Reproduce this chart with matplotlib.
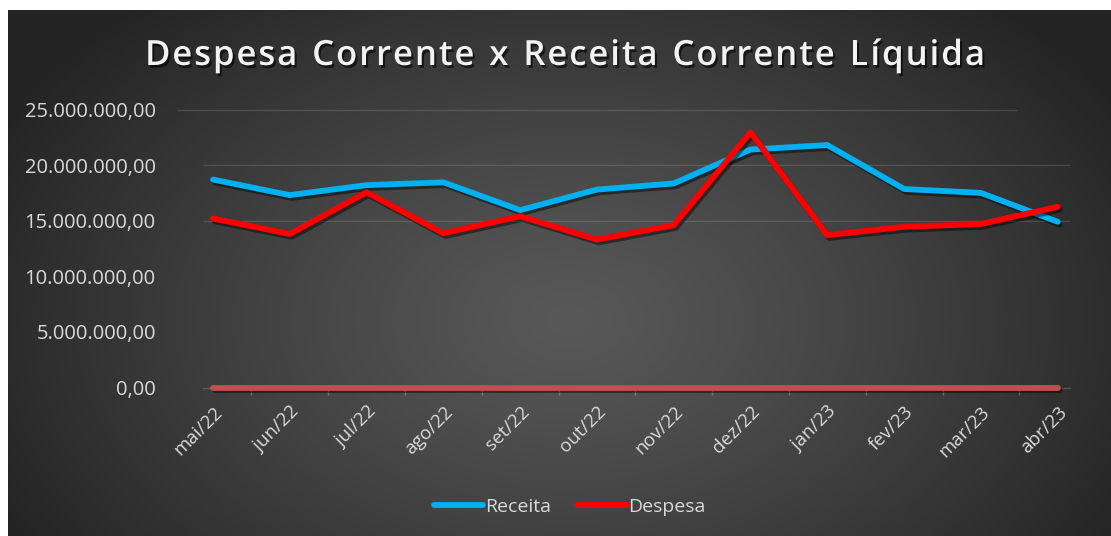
import numpy as np
import matplotlib
matplotlib.use("Agg")
import matplotlib.pyplot as plt
import matplotlib.patheffects as pe
from matplotlib.ticker import FuncFormatter

# ---- data ----
months = ["mai/22", "jun/22", "jul/22", "ago/22", "set/22", "out/22",
          "nov/22", "dez/22", "jan/23", "fev/23", "mar/23", "abr/23"]
receita = [18.7e6, 17.3e6, 18.2e6, 18.45e6, 15.95e6, 17.8e6,
           18.35e6, 21.4e6, 21.8e6, 17.85e6, 17.5e6, 14.9e6]
despesa = [15.2e6, 13.8e6, 17.55e6, 13.87e6, 15.4e6, 13.3e6,
           14.6e6, 22.95e6, 13.7e6, 14.45e6, 14.7e6, 16.25e6]
outra = [0] * 12
yticks = [0, 5e6, 10e6, 15e6, 20e6, 25e6]
title = "Despesa Corrente x Receita Corrente Líquida"

W, H = 1111, 536
fig = plt.figure(figsize=(W / 100, H / 100), dpi=100)
fig.patch.set_facecolor("white")

# background radial gradient (dark chart area with white margin at left/top)
bg = fig.add_axes([8 / W, 0, (W - 8) / W, (H - 10) / H])
bg.set_axis_off()
yy, xx = np.mgrid[0:H - 10, 0:W - 8]
cx, cy = 560, 310
r = np.sqrt(((xx - cx) / 640.0) ** 2 + ((yy - cy) / 430.0) ** 2)
val = 88 - 52 * np.clip(r, 0, 1) ** 1.2
img = np.dstack([val, val, val]) / 255.0
bg.imshow(img, aspect="auto", extent=[0, 1, 0, 1], origin="upper")
bg.set_xlim(0, 1)
bg.set_ylim(0, 1)

# plot area
x0, x1 = 203 / W, 1070 / W
yb, yt = 1 - 387.5 / H, 1 - 109.5 / H
ax = fig.add_axes([x0, yb, x1 - x0, yt - yb])
ax.patch.set_alpha(0)
x = np.arange(len(months))
ax.set_xlim(-0.13, 11.16)
ax.set_ylim(0, 25e6)

# gridlines (only these are visible in the reference)
grid_c = (1, 1, 1, 0.13)
ax.hlines(25e6, -0.47, 10.47, colors=[grid_c], lw=1.0, clip_on=False, zorder=1)
ax.hlines([15e6, 20e6], -0.13, 11.16, colors=[grid_c], lw=1.0, clip_on=False, zorder=1)

shadow = [pe.SimpleLineShadow(offset=(1.5, -2), shadow_color="black", alpha=0.45, rho=0.3),
          pe.Normal()]
ax.plot(x, outra, color="#C0504D", lw=4.2, solid_capstyle="round", zorder=6,
        clip_on=False, path_effects=shadow)
ax.plot(x, receita, color="#00B0F0", lw=4.2, solid_capstyle="round",
        solid_joinstyle="round", label="Receita", zorder=4, path_effects=shadow)
ax.plot(x, despesa, color="#FF0000", lw=4.2, solid_capstyle="round",
        solid_joinstyle="round", label="Despesa", zorder=5, path_effects=shadow)

for s in ["top", "right", "left"]:
    ax.spines[s].set_visible(False)
ax.spines["bottom"].set_color((1, 1, 1, 0.18))
ax.spines["bottom"].set_linewidth(1.0)

def br(v, pos):
    s = f"{v:,.2f}"
    return s.replace(",", "X").replace(".", ",").replace("X", ".")

font = "Open Sans"
ax.set_yticks(yticks)
ax.yaxis.set_major_formatter(FuncFormatter(br))
ax.tick_params(axis="y", length=0, pad=34, labelsize=14.5, labelcolor="#D9D9D9")
for lab in ax.get_yticklabels():
    lab.set_fontfamily(font)

ax.set_xticks(x)
ax.set_xticklabels(months, rotation=45, ha="right", rotation_mode="anchor",
                   fontsize=13.5, color="#D9D9D9", fontfamily=font)
ax.tick_params(axis="x", which="major", length=0, pad=11)
ax.set_xticks(np.arange(len(months) - 1) + 0.5, minor=True)
ax.tick_params(axis="x", which="minor", length=5, width=1, color=(1, 1, 1, 0.25))

leg = fig.legend(handles=ax.get_lines()[1:], loc="center", bbox_to_anchor=(570 / W, 1 - 507 / H),
                 ncol=2, frameon=False, handlelength=2.5, handletextpad=0.1,
                 columnspacing=1.4, prop={"family": font, "size": 14})
for t in leg.get_texts():
    t.set_color("#D9D9D9")
for h in leg.legend_handles:
    h.set_path_effects([])

# letter-spaced title
renderer = fig.canvas.get_renderer()
tprops = dict(fontsize=25, fontweight="semibold", color="#F2F2F2", fontfamily=font)
tshadow = [pe.withSimplePatchShadow(offset=(1.5, -2), shadow_rgbFace="black", alpha=0.6)]
target_left, target_right = 145, 985
widths = []
for ch in title:
    t = fig.text(0, 0, ch if ch != " " else "n", **tprops)
    w = t.get_window_extent(renderer).width
    if ch == " ":
        w *= 0.5
    widths.append(w)
    t.remove()
total = sum(widths)
gap = (target_right - target_left - total) / (len(title) - 1)
xpos = target_left
for ch, w in zip(title, widths):
    if ch != " ":
        fig.text(xpos / W, 1 - 56 / H, ch, ha="left", va="center",
                 path_effects=tshadow, **tprops)
    xpos += w + gap

fig.savefig("out.png", dpi=100, facecolor="white")
